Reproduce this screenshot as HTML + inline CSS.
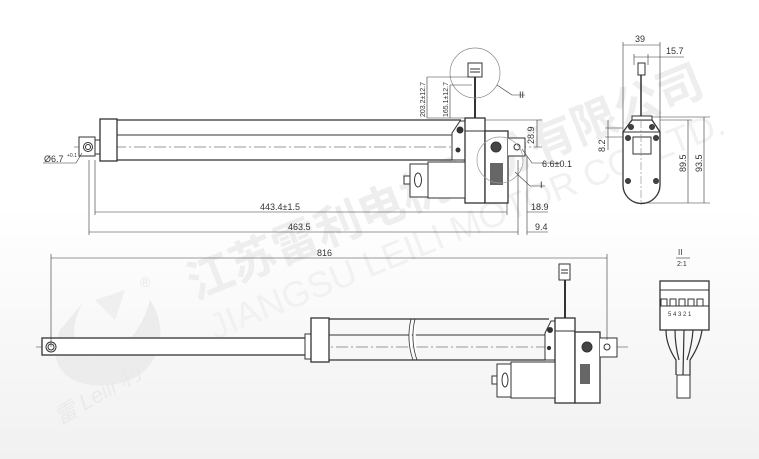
<!DOCTYPE html>
<html><head><meta charset="utf-8"><style>
html,body{margin:0;padding:0;}
body{width:759px;height:459px;overflow:hidden;background:linear-gradient(180deg,#ffffff 0%,#ffffff 45%,#f1f1f1 100%);}
svg{display:block}
text{font-family:"Liberation Sans","Noto Sans CJK SC",sans-serif;}
</style></head><body>
<svg width="759" height="459" viewBox="0 0 759 459" xmlns="http://www.w3.org/2000/svg">
<!-- watermark -->
<g fill="#eeeeee">
<text x="0" y="0" font-size="46" font-weight="bold" transform="translate(195,300) rotate(-22)" font-family="Noto Sans CJK SC, sans-serif">江苏雷利电机股份有限公司</text>
<text x="0" y="0" font-size="36" transform="translate(215,340) rotate(-22)" fill="#f1f1f1">JIANGSU LEILI MOTOR CO.,LTD.</text>
<path d="M60,330 C40,380 90,395 130,380 C160,368 170,330 150,300 C140,340 110,360 90,355 C70,350 70,320 85,300 Z" fill="#ececec"/>
<path d="M95,300 L125,290 L115,320 Z" fill="#efefef"/>
<text x="140" y="287" font-size="14" fill="#e8e8e8">®</text>
<text x="0" y="0" font-size="22" font-style="italic" font-family="Liberation Serif, serif" transform="translate(60,425) rotate(-30)" fill="#eaeaea">雷 Leili 利</text>
</g>

<g stroke="#333" fill="none" stroke-width="1">
<!-- TOP VIEW -->
<line x1="74" y1="147" x2="542" y2="147" stroke="#777" stroke-width="0.7" stroke-dasharray="12,3,2,3"/>
<rect x="79" y="137" width="16" height="19" fill="#fff"/>
<circle cx="88" cy="147" r="4.5"/><circle cx="88" cy="147" r="2.5"/>
<rect x="95" y="140" width="6" height="14" fill="#fff"/>
<rect x="100" y="119" width="17" height="42" fill="#fff" stroke-width="1.3"/>
<line x1="117" y1="120" x2="461" y2="120" stroke-width="1.3"/>
<line x1="117" y1="135" x2="452" y2="135"/>
<line x1="117" y1="160" x2="452" y2="160" stroke-width="1.3"/>
<path d="M452,160 L452,133 L460,121 L465,121 L465,160 Z" fill="#fff"/>
<circle cx="460" cy="130" r="3" fill="#333"/><circle cx="458" cy="150" r="2" fill="#333"/>
<rect x="465" y="118" width="20" height="85" fill="#fff" stroke-width="1.3"/>
<line x1="465" y1="131" x2="485" y2="131"/>
<rect x="485" y="131" width="23" height="72" fill="#fff" stroke-width="1.3"/>
<line x1="485" y1="165" x2="485" y2="203"/>
<path d="M508,138 L525,138 L525,156 L508,156" fill="#fff"/>
<circle cx="517" cy="147" r="3"/>
<circle cx="496" cy="147" r="5" fill="#444"/>
<rect x="490" y="163" width="13" height="22" fill="#666" stroke="none"/>
<circle cx="500" cy="160" r="23" stroke="#999" stroke-width="0.7"/>
<rect x="428" y="162" width="37" height="36" fill="#fff"/>
<rect x="410" y="164" width="18" height="33" fill="#fff"/>
<ellipse cx="418" cy="180" rx="3.5" ry="7"/>
<rect x="404" y="176" width="6" height="8" fill="#fff"/>
<line x1="475" y1="77" x2="475" y2="118" stroke-width="2"/>
<rect x="468" y="63" width="14" height="14" fill="#fff"/>
<line x1="470" y1="69" x2="480" y2="69"/><line x1="470" y1="72" x2="480" y2="72"/>
<circle cx="475" cy="73" r="25" stroke="#888" stroke-width="0.7"/>
<polyline points="497,85 512,95 525,95" stroke-width="0.6"/>
<polyline points="515,172 530,186 545,186" stroke-width="0.6"/>
<!-- top view dims -->
<g stroke-width="0.6">
<line x1="427" y1="77" x2="470" y2="77"/><line x1="427" y1="118" x2="465" y2="118"/>
<line x1="427" y1="77" x2="427" y2="118"/><line x1="450" y1="85" x2="450" y2="118"/>
<line x1="450" y1="85" x2="472" y2="85"/>
<line x1="485" y1="120" x2="542" y2="120"/><line x1="537" y1="120" x2="537" y2="147"/>
<line x1="95" y1="160" x2="95" y2="215"/><line x1="89" y1="160" x2="89" y2="235"/>
<line x1="507" y1="203" x2="507" y2="215"/><line x1="518" y1="160" x2="518" y2="235"/><line x1="527" y1="156" x2="527" y2="235"/>
<line x1="95" y1="212" x2="507" y2="212"/><line x1="527" y1="212" x2="548" y2="212"/>
<line x1="89" y1="232" x2="518" y2="232"/><line x1="527" y1="232" x2="548" y2="232"/>
<polyline points="522,149 532,163 560,163"/>
<line x1="43" y1="163" x2="76" y2="163"/><line x1="76" y1="163" x2="82" y2="153"/>
</g>
<!-- SIDE VIEW -->
<path d="M623,132 L632,120 L652,120 L660,132 L660,185 A18.5,18.5 0 0 1 623,185 Z" fill="#fff" stroke-width="1.3"/>
<rect x="632" y="116" width="20" height="4" fill="#fff"/>
<line x1="623" y1="132" x2="660" y2="132"/>
<rect x="633" y="137" width="18" height="17"/>
<circle cx="631" cy="127" r="2.5" fill="#444"/><circle cx="652" cy="127" r="2.5" fill="#444"/>
<circle cx="628" cy="138" r="2.5" fill="#444"/><circle cx="656" cy="138" r="2.5" fill="#444"/>
<circle cx="628" cy="181" r="2.5" fill="#444"/><circle cx="656" cy="181" r="2.5" fill="#444"/>
<line x1="641" y1="75" x2="641" y2="116" stroke-width="1.5"/>
<rect x="638" y="63" width="7" height="12" fill="#fff"/>
<line x1="641" y1="120" x2="641" y2="205" stroke="#888" stroke-width="0.6" stroke-dasharray="8,2,2,2"/>
<g stroke-width="0.6">
<line x1="623" y1="42" x2="623" y2="132"/><line x1="660" y1="42" x2="660" y2="132"/>
<line x1="623" y1="45" x2="660" y2="45"/>
<line x1="634" y1="54" x2="634" y2="65"/><line x1="648" y1="54" x2="648" y2="65"/>
<line x1="634" y1="57" x2="684" y2="57"/>
<line x1="605" y1="128" x2="623" y2="128"/><line x1="605" y1="137" x2="623" y2="137"/>
<line x1="608" y1="120" x2="608" y2="150"/>
<line x1="652" y1="117" x2="710" y2="117"/><line x1="660" y1="120" x2="692" y2="120"/>
<line x1="641" y1="203" x2="710" y2="203"/>
<line x1="688" y1="120" x2="688" y2="203"/><line x1="704" y1="117" x2="704" y2="203"/>
</g>
<!-- BOTTOM VIEW -->
<line x1="36" y1="347" x2="628" y2="347" stroke="#777" stroke-width="0.7" stroke-dasharray="12,3,2,3"/>
<rect x="42" y="338" width="270" height="17" fill="#fff" stroke-width="1.3"/>
<circle cx="51" cy="347" r="5"/><circle cx="51" cy="347" r="3"/>
<rect x="305" y="334" width="7" height="25" fill="#fff"/>
<rect x="311" y="318" width="18" height="44" fill="#fff" stroke-width="1.3"/>
<line x1="329" y1="319" x2="549" y2="319" stroke-width="1.3"/>
<line x1="329" y1="335" x2="545" y2="335"/>
<line x1="329" y1="360" x2="545" y2="360" stroke-width="1.3"/>
<path d="M411,319 Q406,340 413,360 M415,319 Q410,340 417,360" fill="#fff" stroke-width="0.8"/>
<path d="M545,360 L545,333 L551,321 L555,321 L555,360 Z" fill="#fff"/>
<circle cx="550" cy="330" r="2.5" fill="#333"/><circle cx="549" cy="348" r="1.6" fill="#333"/>
<rect x="555" y="318" width="20" height="85" fill="#fff" stroke-width="1.3"/>
<line x1="555" y1="331" x2="575" y2="331"/>
<rect x="575" y="332" width="25" height="71" fill="#fff" stroke-width="1.3"/>
<path d="M600,338 L617,338 L617,357 L600,357" fill="#fff"/>
<circle cx="607" cy="347" r="3"/>
<circle cx="587" cy="347" r="5" fill="#444"/>
<rect x="580" y="364" width="10" height="20" fill="#666" stroke="none"/>
<rect x="511" y="362" width="44" height="36" fill="#fff"/>
<rect x="497" y="364" width="14" height="33" fill="#fff"/>
<ellipse cx="505" cy="380" rx="3" ry="7"/>
<rect x="492" y="376" width="5" height="8" fill="#fff"/>
<line x1="565" y1="280" x2="565" y2="318" stroke-width="2"/>
<rect x="559" y="264" width="11" height="16" fill="#fff"/>
<line x1="561" y1="270" x2="568" y2="270"/><line x1="561" y1="273" x2="568" y2="273"/>
<g stroke-width="0.6">
<line x1="51" y1="254" x2="51" y2="347"/><line x1="607" y1="254" x2="607" y2="340"/>
<line x1="51" y1="258" x2="607" y2="258"/>
<line x1="676" y1="258" x2="690" y2="258"/>
</g>
<!-- detail II -->
<rect x="660" y="281" width="49" height="49" fill="#fff" stroke-width="1.3"/>
<line x1="660" y1="290" x2="709" y2="290"/>
<path d="M661,306 v-7 h6 v7 M670,306 v-7 h6 v7 M679,306 v-7 h6 v7 M688,306 v-7 h6 v7 M697,306 v-7 h6 v7"/>
<line x1="660" y1="306" x2="709" y2="306"/>
<path d="M666,330 Q666,345 676,360 L676,375 M675,330 Q675,345 679,360 M684,330 L683,375 M693,330 Q692,345 687,360 M702,330 Q700,345 690,360 L690,375" stroke-width="1.2"/>
<rect x="677" y="375" width="13" height="23" fill="#fff"/>
</g>
<g fill="#333" font-size="9">
<text x="44" y="162">Ø6.7</text><text x="67" y="157" font-size="5">+0.1</text>
<text x="260" y="210">443.4±1.5</text>
<text x="288" y="230">463.5</text>
<text x="531" y="210">18.9</text>
<text x="535" y="230">9.4</text>
<text x="542" y="167">6.6±0.1</text>
<text x="519" y="98" font-family="Liberation Serif,serif">II</text>
<text x="540" y="188" font-family="Liberation Serif,serif">I</text>
<text transform="translate(534,144) rotate(-90)">28.9</text>
<text transform="translate(425,117) rotate(-90)" font-size="7">203.2±12.7</text>
<text transform="translate(448,117) rotate(-90)" font-size="7">165.1±12.7</text>
<text x="635" y="42">39</text>
<text x="666" y="54">15.7</text>
<text transform="translate(605,152) rotate(-90)">8.2</text>
<text transform="translate(686,172) rotate(-90)">89.5</text>
<text transform="translate(702,172) rotate(-90)">93.5</text>
<text x="317" y="256">816</text>
<text x="678" y="255" font-size="8" font-family="Liberation Serif,serif">II</text>
<text x="677" y="266" font-size="7">2:1</text>
<text x="668" y="316" font-size="6">5 4 3 2 1</text>
</g>
</svg>
</body></html>
